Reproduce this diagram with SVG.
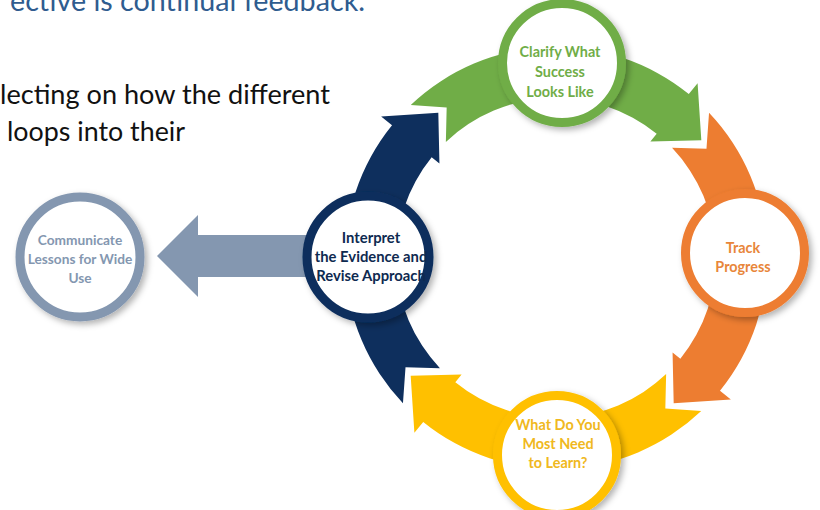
<svg xmlns="http://www.w3.org/2000/svg" width="820" height="510" viewBox="0 0 820 510">
<style>
.big{font-family:Lato,"Liberation Sans",sans-serif;font-size:27px;fill:#111}
.head{font-family:Lato,"Liberation Sans",sans-serif;font-size:28px;fill:#2f5c8f}
.lbl{font-family:Lato,"Liberation Sans",sans-serif;font-size:14.4px;font-weight:700;text-anchor:middle}
.ring{fill:#fff;stroke-width:9;filter:url(#sh)}
</style>
<defs>
<filter id="sh" x="-20%" y="-20%" width="150%" height="150%">
<feDropShadow dx="3" dy="3" stdDeviation="3" flood-color="#000" flood-opacity="0.3"/>
</filter>
<path id="arc" d="M153.05,-145.24 A211,211 0 0 1 163.98,132.79 L174.86,141.60 L117.68,145.33 L116.57,94.40 L124.34,100.69 A160,160 0 0 0 116.06,-110.14 L150.48,-109.33 Z"/>
</defs>
<text class="head" x="10" y="11" textLength="355" lengthAdjust="spacingAndGlyphs">ective is continual feedback.</text>
<text class="big" x="0" y="104" textLength="330" lengthAdjust="spacingAndGlyphs">lecting on how the different</text>
<text class="big" x="7" y="141" textLength="178" lengthAdjust="spacingAndGlyphs">loops into their</text>
<g id="connectors">
<use href="#arc" transform="translate(556,258) rotate(-90)" fill="#70ad47"/>
<use href="#arc" transform="translate(556,258)" fill="#ed7d31"/>
<use href="#arc" transform="translate(556,258) rotate(90)" fill="#ffc000"/>
<use href="#arc" transform="translate(556,258) rotate(180)" fill="#0e2f5d"/>
<path d="M157,256 L198,215 L198,235 L312,235 L312,277 L198,277 L198,297 Z" fill="#8497b0"/>
</g>
<g id="clarify">
<circle class="ring" cx="562" cy="63" r="59.5" stroke="#70ad47"/>
<text class="lbl" fill="#70ad47" x="560" y="57">Clarify What<tspan x="560" y="77">Success</tspan><tspan x="560" y="97">Looks Like</tspan></text>
</g>
<g id="track">
<circle class="ring" cx="745" cy="253" r="59.5" stroke="#ed7d31"/>
<text class="lbl" fill="#e8863a" x="743" y="253">Track<tspan x="743" y="272">Progress</tspan></text>
</g>
<g id="learn">
<circle class="ring" cx="557" cy="455" r="59.5" stroke="#ffc000"/>
<text class="lbl" fill="#f0b820" x="558" y="430">What Do You<tspan x="558" y="449">Most Need</tspan><tspan x="558" y="468">to Learn?</tspan></text>
</g>
<g id="interpret">
<circle class="ring" cx="368" cy="257" r="61" stroke="#0e2f5d"/>
<text class="lbl" fill="#0e2a50" style="font-size:14.8px" x="371" y="243">Interpret<tspan x="371" y="262">the Evidence and</tspan><tspan x="371" y="281">Revise Approach</tspan></text>
</g>
<g id="communicate">
<circle class="ring" cx="80" cy="257" r="60" stroke="#8497b0"/>
<text class="lbl" fill="#8497b0" style="font-size:13.7px" x="80" y="245">Communicate<tspan x="80" y="264">Lessons for Wide</tspan><tspan x="80" y="283">Use</tspan></text>
</g>
</svg>
